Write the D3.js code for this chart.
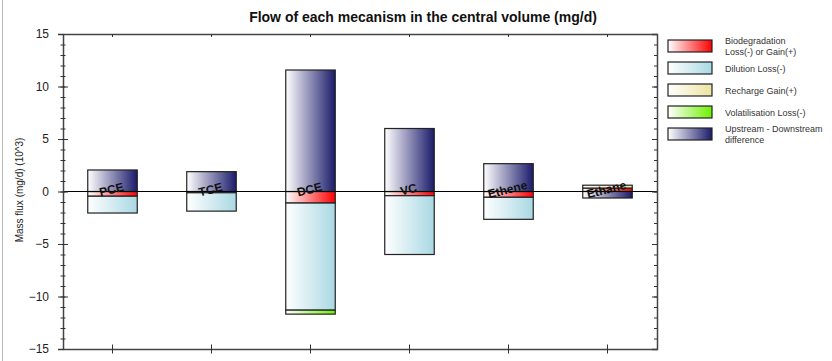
<!DOCTYPE html>
<html>
<head>
<meta charset="utf-8">
<script src="https://cdn.jsdelivr.net/npm/d3@7"></script>
<style>
  body { margin: 0; background: #fff; }
  text { font-family: Arial, "Liberation Sans", sans-serif; }
</style>
</head>
<body>
<div id="plot"></div>
<script>
// values in mg/d (x10^3)
var categories = ["PCE", "TCE", "DCE", "VC", "Ethene", "Ethane"];
var biodegradation = [-0.45, -0.12, -1.1, -0.4, -0.55, 0.33];
var dilution = [-1.6, -1.75, -10.2, -5.6, -2.1, 0];
var recharge = [0, 0, 0, 0, 0, 0.27];
var volatilisation = [0, 0, -0.38, 0, 0, 0];
var upstream = [2.05, 1.89, 11.57, 6.0, 2.65, -0.62];
var yTicks = [-15, -10, -5, 0, 5, 10, 15];

var seriesKeys = ["bio", "dil", "rech", "vol", "up"];
var legendLabels = [["Biodegradation", "Loss(-) or Gain(+)"], ["Dilution Loss(-)"], ["Recharge Gain(+)"], ["Volatilisation Loss(-)"], ["Upstream - Downstream", "difference"]];
var colors = { bio: "#ff0000", dil: "#a9d8e3", rech: "#ece4a0", vol: "#6ef000", up: "#1b1b6b" };

var table = categories.map(function (c, i) {
    return { cat: c, bio: biodegradation[i], dil: dilution[i], rech: recharge[i], vol: volatilisation[i], up: upstream[i] };
});

var w = 832, h = 361;
var padL = 63, padR = 657, padT = 34, padB = 349;

var svg = d3.select("#plot")
    .append("svg")
    .attr("width", w)
    .attr("height", h);

var defs = svg.append("defs");
seriesKeys.forEach(function (k) {
    var g = defs.append("linearGradient").attr("id", "grad-" + k)
        .attr("x1", "0%").attr("x2", "100%").attr("y1", "0%").attr("y2", "0%");
    g.append("stop").attr("offset", "0%").attr("stop-color", "#ffffff");
    g.append("stop").attr("offset", "100%").attr("stop-color", colors[k]);
});

// frame line at left edge
svg.append("line").attr("x1", 2.5).attr("x2", 2.5).attr("y1", 0).attr("y2", h)
    .attr("stroke", "#bbb");

var x = d3.scaleBand()
    .domain(categories)
    .range([padL, padR])
    .paddingInner(0.5)
    .paddingOuter(0.25);

var y = d3.scaleLinear()
    .domain([-15, 15])
    .range([padB, padT]);

var stacked = d3.stack()
    .keys(seriesKeys)
    .offset(d3.stackOffsetDiverging)(table);

var layers = svg.selectAll("g.layer")
    .data(stacked)
    .enter()
    .append("g")
    .attr("class", "layer")
    .attr("fill", function (d) { return "url(#grad-" + d.key + ")"; });

layers.selectAll("rect")
    .data(function (d) { return d.filter(function (p) { return p[1] - p[0] !== 0; }); })
    .enter()
    .append("rect")
    .attr("x", function (d) { return x(d.data.cat); })
    .attr("width", x.bandwidth())
    .attr("y", function (d) { return y(Math.max(d[0], d[1])); })
    .attr("height", function (d) { return Math.abs(y(d[0]) - y(d[1])); })
    .attr("stroke", "#222")
    .attr("stroke-width", 1.2);

// zero line
svg.append("line")
    .attr("x1", padL).attr("x2", padR)
    .attr("y1", y(0)).attr("y2", y(0))
    .attr("stroke", "#000").attr("stroke-width", 1);

// category labels inside bars
svg.selectAll("text.cat")
    .data(categories)
    .enter()
    .append("text")
    .attr("class", "cat")
    .attr("transform", function (d) {
        return "translate(" + (x(d) + x.bandwidth() / 2) + "," + (y(0) + 2) + ") rotate(-14)";
    })
    .attr("text-anchor", "middle")
    .attr("font-size", 12)
    .attr("font-weight", "bold")
    .attr("fill", "#111")
    .text(function (d) { return d; });

// axes
var leftMajor = svg.append("g")
    .attr("transform", "translate(" + padL + ",0)")
    .call(d3.axisLeft(y).tickValues(yTicks).tickSize(5).tickPadding(9));
leftMajor.selectAll(".tick line").attr("x1", 5);
var leftMinor = svg.append("g")
    .attr("transform", "translate(" + padL + ",0)")
    .call(d3.axisLeft(y).tickValues(d3.range(-15, 16, 1)).tickSize(2.5).tickFormat(""));
leftMinor.selectAll(".tick line").attr("x1", 2.5);
leftMinor.select(".domain").remove();

svg.append("g")
    .attr("transform", "translate(" + padR + ",0)")
    .call(d3.axisLeft(y).tickValues(yTicks).tickSize(5).tickFormat(""));
var rightMinor = svg.append("g")
    .attr("transform", "translate(" + padR + ",0)")
    .call(d3.axisLeft(y).tickValues(d3.range(-15, 16, 1)).tickSize(3).tickFormat(""));
rightMinor.select(".domain").remove();

svg.append("g")
    .attr("transform", "translate(0," + padT + ")")
    .call(d3.axisBottom(x).tickSize(3).tickSizeOuter(0).tickFormat(""));
var bottomAxis = svg.append("g")
    .attr("transform", "translate(0," + padB + ")")
    .call(d3.axisBottom(x).tickSize(4.5).tickSizeOuter(0).tickFormat(""));
bottomAxis.selectAll(".tick line").attr("y1", -4.5);

svg.selectAll(".domain").attr("stroke", "#444").attr("stroke-width", 1.5);
svg.selectAll(".tick line").attr("stroke", "#333");
svg.selectAll(".tick text").attr("font-size", 12).attr("fill", "#222")
    .style("font-family", "Arial, 'Liberation Sans', sans-serif");

// title
svg.append("text")
    .attr("x", 423).attr("y", 22)
    .attr("text-anchor", "middle")
    .attr("font-size", 14)
    .attr("font-weight", "bold")
    .attr("fill", "#111")
    .text("Flow of each mecanism in the central volume (mg/d)");

// y label
svg.append("text")
    .attr("transform", "translate(23,190) rotate(-90)")
    .attr("text-anchor", "middle")
    .attr("font-size", 10)
    .attr("fill", "#222")
    .text("Mass flux (mg/d) (10^3)");

// legend
var legend = svg.selectAll("g.leg")
    .data(seriesKeys)
    .enter()
    .append("g")
    .attr("class", "leg")
    .attr("transform", function (d, i) { return "translate(668," + (40 + i * 22) + ")"; });

legend.append("rect")
    .attr("width", 44).attr("height", 12)
    .attr("fill", function (d) { return "url(#grad-" + d + ")"; })
    .attr("stroke", "#222").attr("stroke-width", 1.2);

legend.each(function (d, i) {
    var lines = legendLabels[i];
    var t = d3.select(this).append("text")
        .attr("x", 57)
        .attr("font-size", 9)
        .attr("fill", "#333");
    lines.forEach(function (s, j) {
        t.append("tspan")
            .attr("x", 57)
            .attr("y", lines.length === 1 ? 9.5 : 4 + j * 11)
            .text(s);
    });
});
</script>
</body>
</html>
